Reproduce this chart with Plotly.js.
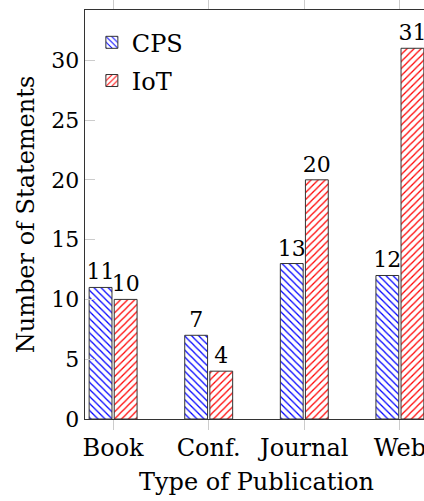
<!DOCTYPE html>
<html>
<head>
<meta charset="utf-8">
<script src="https://cdn.plot.ly/plotly-3.0.1.min.js"></script>
<style>
html,body{margin:0;padding:0;overflow:hidden;background:#fff;}
#chart{width:432px;height:501px;}
</style>
</head>
<body>
<div id="chart"></div>
<script>
const categories = ["Book", "Conf.", "Journal", "Web"];
const cpsValues = [11, 7, 13, 12];
const iotValues = [10, 4, 20, 31];
const seriesNames = ["CPS", "IoT"];
const yTicks = [0, 5, 10, 15, 20, 25, 30];

const FONT = "DejaVu Serif, serif";

function barTrace(name, values, color, shape) {
  return {
    type: "bar",
    name: name,
    legendgroup: name,
    x: categories,
    y: values,
    text: values.map(String),
    textposition: "outside",
    constraintext: "none",
    cliponaxis: false,
    textfont: {family: FONT, size: 22, color: "#000"},
    marker: {
      color: "#fff",
      line: {color: "#333", width: 1},
      pattern: {shape: shape, fgcolor: color, bgcolor: "#fff", size: 5, solidity: 0.25}
    },
    hoverinfo: "skip"
  };
}

const data = [
  barTrace(seriesNames[0], cpsValues, "#0000ff", "\\"),
  barTrace(seriesNames[1], iotValues, "#ff0000", "/")
];

const layout = {
  width: 432,
  height: 501,
  margin: {l: 85, r: 4, t: 10, b: 82},
  paper_bgcolor: "#fff",
  plot_bgcolor: "#fff",
  font: {family: FONT, size: 24, color: "#000"},
  barmode: "group",
  bargap: 0.475,
  bargroupgap: 0.09,
  showlegend: true,
  legend: {
    x: 0.02, y: 0.975, xanchor: "left", yanchor: "top",
    bgcolor: "rgba(0,0,0,0)", borderwidth: 0,
    font: {family: FONT, size: 24, color: "#000"},
    itemwidth: 30, traceorder: "grouped", tracegroupgap: 4
  },
  xaxis: {
    type: "category",
    range: [-0.294, 3.294],
    showline: true, mirror: "ticks", linecolor: "#333", linewidth: 1.3,
    ticks: "outside", ticklen: 10, tickcolor: "#cccccc", tickwidth: 1,
    ticklabelstandoff: -3,
    showgrid: false, zeroline: false,
    tickfont: {family: FONT, size: 24, color: "#000"},
    title: {text: "Type of Publication", font: {family: FONT, size: 24, color: "#000"}, standoff: 12}
  },
  yaxis: {
    range: [0, 34.2],
    tickvals: yTicks,
    showline: true, mirror: true, linecolor: "#333", linewidth: 1.3,
    ticks: "inside", ticklen: 10, tickcolor: "#cccccc", tickwidth: 1,
    showgrid: false, zeroline: false,
    tickfont: {family: FONT, size: 22, color: "#000"},
    title: {text: "Number of Statements", font: {family: FONT, size: 24, color: "#000"}, standoff: 10}
  }
};

Plotly.newPlot("chart", data, layout, {displayModeBar: false, staticPlot: true});
</script>
</body>
</html>
